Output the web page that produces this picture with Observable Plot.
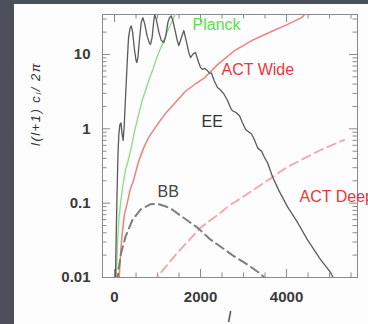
<!DOCTYPE html>
<html>
<head>
<meta charset="utf-8">
<script src="https://cdn.jsdelivr.net/npm/d3@7"></script>
<script src="https://cdn.jsdelivr.net/npm/@observablehq/plot@0.6"></script>
<style>
  html, body { margin: 0; padding: 0; width: 368px; height: 324px; overflow: hidden; background: #4c505a; }
  #panel { position: absolute; left: 14px; top: 4px; width: 354px; height: 320px; background: #fdfdfd; }
  #panel svg { overflow: visible; }
  g[font-style="italic"] text { letter-spacing: 1.5px; }
</style>
</head>
<body>
<div id="panel"></div>
<script>
// Multipole ℓ vs. ℓ(ℓ+1)c_ℓ/2π (μK²): CMB polarization spectra and noise curves.
const EE = [
  [20,0.009],[40,0.04],[60,0.15],[80,0.45],[100,0.85],[125,1.15],[150,1.2],[175,0.85],
  [200,0.7],[225,1.1],[250,2.3],[272,4.2],[300,9],[326,17],[360,22.5],[388,24.2],
  [420,20],[465,11.5],[500,8.3],[519,7.8],[545,9.2],[580,16],[621,27],[658,31.3],
  [700,26],[760,17.5],[814,14],[837,13.7],[875,17],[914,29],[935,34],[970,30],
  [1030,20],[1086,15.5],[1146,14.5],[1190,17.5],[1240,26.9],[1280,31.5],[1319,33],
  [1360,28],[1420,19.5],[1458,15.5],[1495,13.2],[1550,16.5],[1612,21],[1670,15],
  [1728,10.6],[1767,9.1],[1830,10.2],[1884,10.6],[1950,8],[2000,6.7],[2040,6.3],
  [2100,6.5],[2156,6.1],[2210,5.6],[2256,5.6],[2320,4.4],[2395,3.6],[2470,3.3],
  [2550,2.9],[2628,2.4],[2700,1.9],[2744,1.75],[2830,1.65],[2907,1.5],[2977,1.2],
  [3050,0.98],[3130,0.9],[3186,0.85],[3250,0.72],[3330,0.55],[3419,0.5],[3480,0.42],
  [3558,0.35],[3674,0.226],[3814,0.151],[4023,0.089],[4256,0.055],[4488,0.032],
  [4791,0.0174],[5023,0.0117],[5120,0.009]
];
const BB = [
  [60,0.0085],[93,0.0128],[150,0.021],[256,0.0355],[419,0.06],[605,0.082],[837,0.097],
  [1000,0.098],[1200,0.09],[1349,0.0815],[1605,0.0637],[1930,0.0468],[2233,0.0323],
  [2628,0.0223],[2767,0.0195],[3093,0.0149],[3349,0.0117],[3500,0.0098]
];
const PLANCK = [
  [40,0.01],[70,0.03],[100,0.06],[140,0.1],[186,0.16],[256,0.28],[320,0.38],[393,0.574],
  [460,0.9],[528,1.31],[644,2.42],[721,3.3],[798,4.49],[907,6.7],[1000,9.6],[1116,14.1],
  [1256,22.3],[1349,28.6],[1420,36]
];
const ACT_WIDE = [
  [100,0.0085],[150,0.025],[180,0.04],[230,0.07],[295,0.1],[360,0.15],[440,0.2],[550,0.35],
  [674,0.55],[800,0.78],[1000,1.15],[1200,1.65],[1400,2.2],[1650,3.2],[1900,4.1],
  [2100,4.9],[2395,7.3],[2791,11.3],[3200,15.5],[3558,19.3],[4000,25],[4349,31.3],[4450,36]
];
const ACT_DEEP = [
  [900,0.0083],[1000,0.0103],[1465,0.0216],[2000,0.0468],[2465,0.0743],[2628,0.0894],
  [3233,0.151],[4023,0.307],[4791,0.519],[5340,0.71]
];
const CURVE_LABELS = [
  {name: "Planck",   l: 1814, v: 25.3,  color: "#5fdc4f"},
  {name: "ACT Wide", l: 2488, v: 6.28,  color: "#e8383c"},
  {name: "EE",       l: 2023, v: 1.24,  color: "#333333"},
  {name: "BB",       l: 1000, v: 0.1436, color: "#444444"},
  {name: "ACT Deep", l: 4302, v: 0.123, color: "#e8383c"}
];
const X_LABELS = [0, 2000, 4000];
const X_MINOR = [500, 1000, 1500, 2500, 3000, 3500, 4500, 5000, 5500];
const Y_LABELS = [0.01, 0.1, 1, 10];
const Y_MINOR = Y_LABELS.flatMap(d => d3.range(2, 10).map(k => +(k * d).toPrecision(3))).filter(v => v < 34.5);

const W = 354, H = 320, mL = 88, mR = 11, mT = 10, mB = 47;
const frameW = W - mL - mR, frameH = H - mT - mB;
const majorLen = 8, minorLen = 4.5;
const tickStroke = "#8a8a8a";
const pt = d => ({l: d[0], v: d[1]});

const plot = Plot.plot({
  width: W, height: H,
  marginLeft: mL, marginRight: mR, marginTop: mT, marginBottom: mB,
  style: {background: "transparent", fontFamily: "'Liberation Sans', Arial, Helvetica, sans-serif", overflow: "visible"},
  x: {domain: [-280, 5650], axis: null},
  y: {type: "log", domain: [0.01, 34.5], axis: null},
  color: {type: "identity"},
  marks: [
    // inward ticks on all four sides
    Plot.tickX(X_LABELS, {x: d => d, insetTop: frameH - majorLen, stroke: tickStroke}),
    Plot.tickX(X_MINOR, {x: d => d, insetTop: frameH - minorLen, stroke: tickStroke}),
    Plot.tickX(X_LABELS, {x: d => d, insetBottom: frameH - majorLen, stroke: tickStroke}),
    Plot.tickX(X_MINOR, {x: d => d, insetBottom: frameH - minorLen, stroke: tickStroke}),
    Plot.tickY(Y_LABELS, {y: d => d, insetRight: frameW - majorLen, stroke: tickStroke}),
    Plot.tickY(Y_MINOR, {y: d => d, insetRight: frameW - minorLen, stroke: tickStroke}),
    Plot.tickY(Y_LABELS, {y: d => d, insetLeft: frameW - majorLen, stroke: tickStroke}),
    Plot.tickY(Y_MINOR, {y: d => d, insetLeft: frameW - minorLen, stroke: tickStroke}),
    Plot.frame({stroke: tickStroke, strokeWidth: 1}),
    Plot.axisX(X_LABELS, {anchor: "bottom", tickSize: 0, tickPadding: 14, fontSize: 15, fontWeight: "bold", color: "#3a3a3a", label: null, tickFormat: d => String(d)}),
    Plot.axisY(Y_LABELS, {anchor: "left", tickSize: 0, tickPadding: 12, fontSize: 15, fontWeight: "bold", color: "#3a3a3a", label: null, tickFormat: d => String(d)}),
    // curves
    Plot.line(PLANCK.map(pt), {x: "l", y: "v", stroke: "#8ee08a", strokeWidth: 1.4, clip: true}),
    Plot.line(ACT_WIDE.map(pt), {x: "l", y: "v", stroke: "#f27f80", strokeWidth: 1.5, clip: true}),
    Plot.line(ACT_DEEP.map(pt), {x: "l", y: "v", stroke: "#f6a3ab", strokeWidth: 1.8, strokeDasharray: "9,5", clip: true}),
    Plot.line(BB.map(pt), {x: "l", y: "v", stroke: "#7d7d7d", strokeWidth: 2, strokeDasharray: "9,5", clip: true}),
    Plot.line(EE.map(pt), {x: "l", y: "v", stroke: "#5a5a5a", strokeWidth: 1.3, clip: true}),
    // curve labels
    Plot.text(CURVE_LABELS, {x: "l", y: "v", text: "name", fill: "color", textAnchor: "start", fontSize: 16}),
    // axis titles
    Plot.text(["l(l+1) cₗ/ 2π"], {frameAnchor: "left", rotate: -90, dx: -67, fontSize: 13, fontStyle: "italic", fill: "#333"}),
    Plot.text(["l"], {frameAnchor: "bottom", dy: 44, fontSize: 14, fontStyle: "italic", fill: "#333"})
  ]
});
document.getElementById("panel").append(plot);
</script>
</body>
</html>
